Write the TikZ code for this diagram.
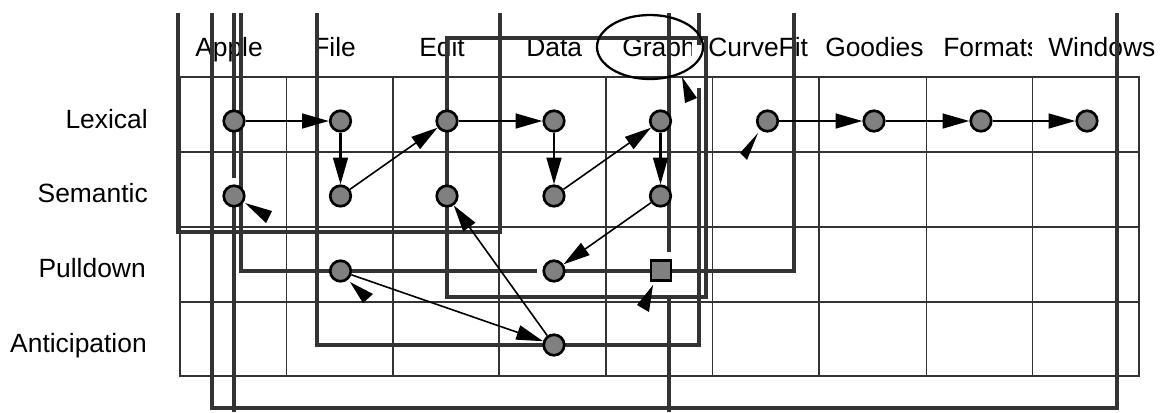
\documentclass[tikz,border=0pt]{standalone}
\usepackage{fontspec}
\setmainfont{Liberation Sans}
\usetikzlibrary{arrows.meta}
\begin{document}
\begin{tikzpicture}[x=0.75pt,y=-0.75pt,
  lbl/.style={font=\fontsize{19.8pt}{22pt}\selectfont, inner sep=0pt},
  gridline/.style={black!80, line width=0.95pt},
  track/.style={black!80, line width=2.3pt, line join=miter},
  state/.style={circle, draw=black, fill=black!50, line width=2pt, minimum size=15.4pt, inner sep=0pt},
  sqstate/.style={rectangle, draw=black, fill=black!50, line width=2pt, minimum size=14.8pt, inner sep=0pt},
  flow/.style={-{Triangle[length=20pt,width=11pt]}, line width=1.7pt},
  link/.style={-{Triangle[length=20pt,width=11pt]}, line width=1.2pt},
  head/.style={fill=black},
  ring/.style={draw=black, line width=1.7pt}
]
\useasboundingbox (0,0) rectangle (1161,412);

% column headers
\node[lbl, anchor=base west] (hApple) at (195,56) {Apple};
\node[lbl, anchor=base west] (hFile) at (313,56) {File};
\node[lbl, anchor=base west] (hEdit) at (419,56) {Edit};
\node[lbl, anchor=base west] (hData) at (526,56) {Data};
\node[lbl, anchor=base west] (hGraph) at (622,56) {Graph};
\node[lbl, anchor=base west] (hCurve) at (708,56) {CurveFit};
\node[lbl, anchor=base west] (hGood) at (825,56) {Goodies};
\node[lbl, anchor=base west] (hForm) at (943,56) {Formats};
\fill[white] (691.5,28) rectangle (698,64);
\fill[white] (1032,28) rectangle (1046,64);
\node[lbl, anchor=base west] (hWin) at (1048,56) {Windows};

% row labels
\node[lbl, anchor=base east] (rLex) at (148,128) {Lexical};
\node[lbl, anchor=base east] (rSem) at (148,202) {Semantic};
\node[lbl, anchor=base east] (rPull) at (146,277) {Pulldown};
\node[lbl, anchor=base east] (rAnt) at (147,352) {Anticipation};

% grid
\draw[gridline] (180,77) rectangle (1139,376);
\foreach \y in {152,227,302} \draw[gridline] (180,\y) -- (1139,\y);
\foreach \x in {286.7,392.9,499,606,712.7,819,926.4,1032.7} \draw[gridline] (\x,77) -- (\x,376);

% thick tracks
\draw[track] (178,13) -- (178,232) -- (500,232) -- (500,13);
\draw[track] (212,13) -- (212,408) -- (1117,408) -- (1117,13);
\draw[track] (234,13) -- (234,178);
\draw[track] (234,196) -- (234,412);
\draw[track] (241,13) -- (241,271) -- (537,271);
\draw[track] (554,271) -- (794,271) -- (794,13);
\draw[track] (447,38) rectangle (706,297);
\draw[track] (317,13) -- (317,345) -- (699,345) -- (699,88);
\draw[track] (699,13) -- (699,45);
\draw[track] (669,13) -- (669,252);
\draw[track] (669,297) -- (669,412);

% ellipse around Graph
\draw[ring] (650,47) ellipse [x radius=39.75pt, y radius=24pt];

% states
\node[state] (L1) at (234,121) {};
\node[state] (L2) at (340.5,121) {};
\node[state] (L3) at (447,121) {};
\node[state] (L4) at (554,121) {};
\node[state] (L5) at (660.5,121) {};
\node[state] (L6) at (767.5,121) {};
\node[state] (L7) at (874,121) {};
\node[state] (L8) at (981,121) {};
\node[state] (L9) at (1087,121) {};
\node[state] (S1) at (234,196) {};
\node[state] (S2) at (340.5,196) {};
\node[state] (S3) at (447,196) {};
\node[state] (S4) at (554,196) {};
\node[state] (S5) at (660.5,196) {};
\node[state] (P2) at (340.5,271) {};
\node[state] (P4) at (554,271) {};
\node[sqstate] (P5) at (661,270.5) {};
\node[state] (A4) at (554,345) {};

% connectors
\draw[flow] (L1) -- (L2);
\draw[flow] (L2) -- (S2);
\draw[link] (S2) -- (L3);
\draw[flow] (L3) -- (L4);
\draw[flow] (L4) -- (S4);
\draw[link] (S4) -- (L5);
\draw[flow] (L5) -- (S5);
\draw[link] (S5) -- (P4);
\draw[flow] (L6) -- (L7);
\draw[flow] (L7) -- (L8);
\draw[flow] (L8) -- (L9);
\draw[link] (P2) -- (A4);
\draw[link] (A4) -- (S3);

% loose arrowheads
\fill[head] (245,203) -- (272,211) -- (266,223) -- cycle;
\fill[head] (350,282) -- (373,294) -- (363,303) -- cycle;
\fill[head] (653,285) -- (637,305) -- (649,312) -- cycle;
\fill[head] (758,133) -- (740,153) -- (747,160) -- cycle;
\fill[head] (682,77) -- (685,103) -- (697,98) -- cycle;
\end{tikzpicture}
\end{document}
